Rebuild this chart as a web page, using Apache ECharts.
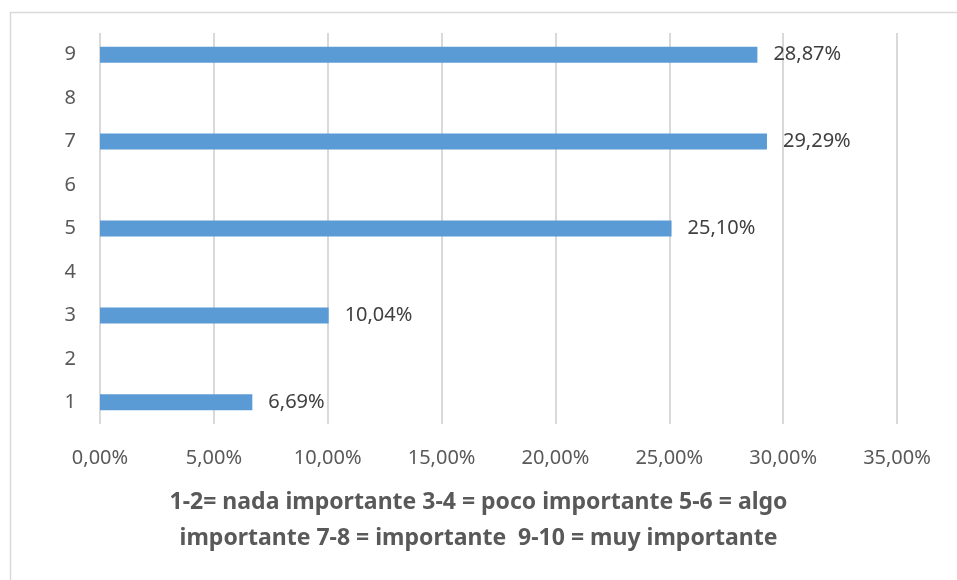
<!DOCTYPE html>
<html>
<head>
<meta charset="utf-8">
<script src="https://cdn.jsdelivr.net/npm/echarts@6/dist/echarts.min.js"></script>
<style>html,body{margin:0;padding:0;background:#fff}#c{width:957px;height:580px}</style>
</head>
<body>
<div id="c"></div>
<script>
const categories = ['1','2','3','4','5','6','7','8','9'];
const values = [6.69, null, 10.04, null, 25.10, null, 29.29, null, 28.87];
const xTicks = { min: 0, max: 35, interval: 5 };
const titleText = '1-2= nada importante 3-4 = poco importante 5-6 = algo\nimportante 7-8 = importante  9-10 = muy importante';

const fmt = v => v.toFixed(2).replace('.', ',') + '%';
const FONT = 'Noto Sans';

const chart = echarts.init(document.getElementById('c'));
chart.setOption({
  animation: false,
  backgroundColor: '#fff',
  textStyle: { fontFamily: FONT },
  graphic: [{
    type: 'rect', shape: { x: 10.5, y: 12.5, width: 960, height: 600 },
    style: { fill: 'none', stroke: '#d9d9d9', lineWidth: 1.5 }, silent: true
  }],
  title: {
    text: titleText, left: 'center', top: 479,
    textStyle: { fontFamily: FONT, fontSize: 23, fontWeight: 'bold', color: '#595959', lineHeight: 36 }
  },
  grid: { left: 100, right: 60, top: 33, bottom: 156, containLabel: false },
  xAxis: {
    type: 'value', min: xTicks.min, max: xTicks.max, interval: xTicks.interval,
    axisLine: { show: false }, axisTick: { show: false },
    axisLabel: { formatter: v => fmt(v), color: '#595959', fontSize: 20, margin: 24, fontFamily: FONT },
    splitLine: { show: true, lineStyle: { color: '#d9d9d9', width: 2 } }
  },
  yAxis: {
    type: 'category', data: categories,
    axisLine: { show: false }, axisTick: { show: false },
    axisLabel: { color: '#595959', fontSize: 20, margin: 24, fontFamily: FONT },
    splitLine: { show: false }
  },
  series: [{
    type: 'bar', data: values, barWidth: 16,
    itemStyle: { color: '#5b9bd5' },
    label: { show: true, position: 'right', distance: 16, color: '#404040', fontSize: 20, fontFamily: FONT,
      formatter: p => fmt(p.value) }
  }]
});
</script>
</body>
</html>
